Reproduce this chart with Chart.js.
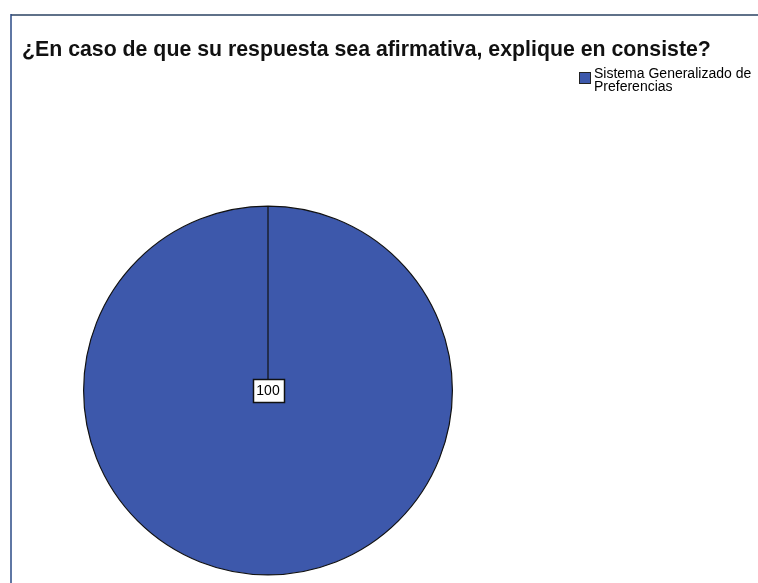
<!DOCTYPE html>
<html>
<head>
<meta charset="utf-8">
<script src="https://cdn.jsdelivr.net/npm/chart.js@4"></script>
<style>
  html, body { margin: 0; padding: 0; background: #fff; }
  #wrap { width: 758px; height: 583px; position: relative; }
</style>
</head>
<body>
<div id="wrap"><canvas id="pieChart" width="758" height="583"></canvas></div>
<script>
// chart data
const chartTitle = '¿En caso de que su respuesta sea afirmativa, explique en consiste?';
const categories = ['Sistema Generalizado de Preferencias'];
const legendLines = [['Sistema Generalizado de', 'Preferencias']];
const percentValues = [100];
const sliceColors = ['#3d58ab'];

// frame, title, legend and value box drawn on the chart canvas
const decorPlugin = {
  id: 'decor',
  beforeDraw(chart) {
    const ctx = chart.ctx;
    ctx.save();
    ctx.fillStyle = '#fff';
    ctx.fillRect(0, 0, chart.width, chart.height);
    // frame
    ctx.strokeStyle = '#5f7189';
    ctx.lineWidth = 2;
    ctx.beginPath();
    ctx.moveTo(11, 15);
    ctx.lineTo(chart.width, 15);
    ctx.stroke();
    ctx.strokeStyle = '#2a4a86';
    ctx.lineWidth = 1.5;
    ctx.beginPath();
    ctx.moveTo(11, 14);
    ctx.lineTo(11, chart.height);
    ctx.stroke();
    // title
    ctx.fillStyle = '#111';
    ctx.font = 'bold 21.3px "Liberation Sans", Arial, sans-serif';
    ctx.textBaseline = 'alphabetic';
    ctx.fillText(chartTitle, 22, 56);
    ctx.restore();
  },
  afterDraw(chart) {
    const ctx = chart.ctx;
    ctx.save();
    // legend
    categories.forEach((c, i) => {
      ctx.fillStyle = sliceColors[i];
      ctx.fillRect(579, 72, 12, 12);
      ctx.strokeStyle = '#222';
      ctx.lineWidth = 1;
      ctx.strokeRect(579.5, 72.5, 11, 11);
      ctx.fillStyle = '#000';
      ctx.font = '14px "Liberation Sans", Arial, sans-serif';
      ctx.textBaseline = 'alphabetic';
      legendLines[i].forEach((line, j) => {
        ctx.fillText(line, 594, 78 + j * 13);
      });
    });
    // value label box at the pie centre
    const arc = chart.getDatasetMeta(0).data[0];
    const label = String(percentValues[0]);
    ctx.font = '14px "Liberation Sans", Arial, sans-serif';
    const w = 31;
    const h = 23;
    const bx = Math.round(arc.x - w / 2) + 0.5;
    const by = Math.round(arc.y - h / 2) + 0.5;
    ctx.fillStyle = '#fff';
    ctx.fillRect(bx, by, w, h);
    ctx.strokeStyle = '#111';
    ctx.lineWidth = 1.5;
    ctx.strokeRect(bx, by, w, h);
    ctx.fillStyle = '#000';
    ctx.textAlign = 'center';
    ctx.textBaseline = 'middle';
    ctx.fillText(label, arc.x, arc.y + 1);
    ctx.restore();
  }
};

new Chart(document.getElementById('pieChart'), {
  type: 'pie',
  data: {
    labels: categories,
    datasets: [{
      data: percentValues,
      backgroundColor: sliceColors,
      borderColor: '#111',
      borderWidth: 1.2
    }]
  },
  options: {
    responsive: false,
    animation: false,
    layout: { padding: { left: 83, right: 305, top: 205, bottom: 7 } },
    plugins: {
      legend: { display: false },
      title: { display: false },
      tooltip: { enabled: false }
    }
  },
  plugins: [decorPlugin]
});
</script>
</body>
</html>
